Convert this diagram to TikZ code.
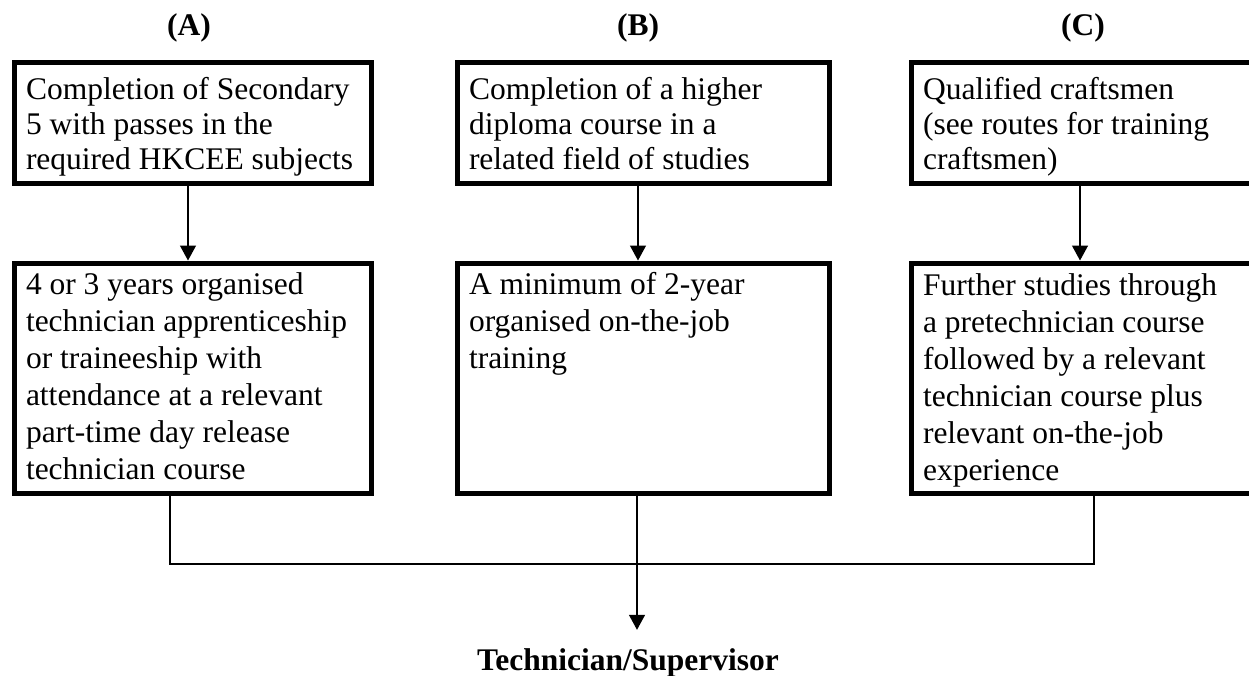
\documentclass[tikz,border=0pt]{standalone}
\usepackage{fontspec}
\setmainfont{Liberation Serif}
\usetikzlibrary{arrows.meta}
\newcommand\bxt[4]{\parbox[c][#1][t]{#2}{\raggedright\leftskip=12pt\relax\rule{0pt}{#3}#4\par}}
\begin{document}
\begin{tikzpicture}[x=1pt,y=-1pt,
  bx/.style={draw, line width=5pt, inner sep=0pt, anchor=north west},
  rowone/.style={font=\fontsize{31.5}{35}\selectfont},
  rowtwo/.style={font=\fontsize{31.5}{37}\selectfont},
  lab/.style={font=\fontsize{31.5}{35}\selectfont\bfseries, inner sep=0pt, anchor=base},
  con/.style={line width=1.3pt},
  arr/.style={con, -{Triangle[length=15pt,width=16pt]}}]
\useasboundingbox (0,0) rectangle (1249,675);
\fill[white] (0,0) rectangle (1249,675);
\begin{scope}
\clip (0,0) rectangle (1249,675);
% column labels
\node[lab] (la) at (189,35) {(A)};
\node[lab] (lb) at (638,35) {(B)};
\node[lab] (lc) at (1083,35) {(C)};
% first row
\node[bx,rowone] (a1) at (11.5,59.5) {\bxt{121pt}{357pt}{37.5pt}{Completion of Secondary\\5 with passes in the\\required HKCEE subjects}};
\node[bx,rowone] (b1) at (454.5,59.5) {\bxt{121pt}{372pt}{37.5pt}{Completion of a higher\\diploma course in a\\related field of studies}};
\node[bx,rowone] (c1) at (908.5,59.5) {\bxt{121pt}{360pt}{37.5pt}{Qualified craftsmen\\(see routes for training\\craftsmen)}};
% second row
\node[bx,rowtwo] (a2) at (11.5,260.5) {\bxt{230pt}{357pt}{31.5pt}{4 or 3 years organised\\technician apprenticeship\\or traineeship with\\attendance at a relevant\\part-time day release\\technician course}};
\node[bx,rowtwo] (b2) at (454.5,260.5) {\bxt{230pt}{372pt}{31.5pt}{A minimum of 2-year\\organised on-the-job\\training}};
\node[bx,rowtwo] (c2) at (908.5,260.5) {\bxt{230pt}{360pt}{32.5pt}{Further studies through\\a pretechnician course\\followed by a relevant\\technician course plus\\relevant on-the-job\\experience}};
% result
\node[font=\fontsize{31.5}{35}\selectfont\bfseries, inner xsep=0pt, inner ysep=18pt,
      text height=22pt, text depth=7pt, anchor=base] (tech) at (628,670) {Technician/Supervisor};
% column coordinates
\coordinate (xa) at (188,0);
\coordinate (xb) at (638,0);
\coordinate (xc) at (1080,0);
\coordinate (ja) at (170,564);
\coordinate (jc) at (1094,564);
\coordinate (xb2) at (637,0);
% connectors
\draw[arr] (a1.south -| xa) -- (a2.north -| xa);
\draw[arr] (b1.south -| xb) -- (b2.north -| xb);
\draw[arr] (c1.south -| xc) -- (c2.north -| xc);
\draw[con] (a2.south -| ja) -- (ja) -- (jc) -- (c2.south -| jc);
\draw[arr] (b2.south -| xb2) -- (tech.north -| xb2);
\end{scope}
\end{tikzpicture}
\end{document}
